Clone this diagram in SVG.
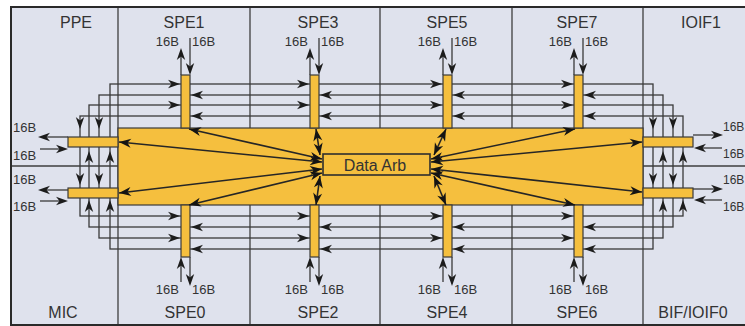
<svg xmlns="http://www.w3.org/2000/svg" xmlns:xlink="http://www.w3.org/1999/xlink" width="745" height="326" viewBox="0 0 745 326">
  <style>
    .bg{fill:#dfe2ed}
    .div{stroke:#3e3e3e;stroke-width:1.3;fill:none}
    .frame{stroke:#2a2a2a;stroke-width:2;fill:none}
    .ring{stroke:#3a3a3a;stroke-width:1.3;fill:none}
    .yel{fill:#f5bf3e;stroke:#3a3a3a;stroke-width:1.2}
    .fan{stroke:#262626;stroke-width:1.6;fill:none;marker-start:url(#fm);marker-end:url(#fm)}
    .stub{stroke:#3a3a3a;stroke-width:1.3;fill:none}
    .ah{fill:#1c1c1c}
    text{font-family:"Liberation Sans",Arial,sans-serif;fill:#333}
    .t{font-size:16px;text-anchor:middle}
    .s{font-size:13px}
    .r{font-size:12px}
    .e{text-anchor:end}
  </style>
  <defs>
    <path id="ah" class="ah" d="M0,0 L-12,-4.2 L-8.5,0 L-12,4.2 Z"/>
    <marker id="fm" markerUnits="userSpaceOnUse" viewBox="-13 -5 13 10" refX="0" refY="0" markerWidth="13" markerHeight="10" orient="auto-start-reverse">
      <path d="M0,0 L-12,-4.5 L-8.5,0 L-12,4.5 Z" fill="#141414"/>
    </marker>
  </defs>

  <rect x="0" y="0" width="745" height="326" fill="#ffffff"/>
  <rect class="bg" x="11" y="7" width="740" height="318"/>
  <g id="dividers">
    <line class="div" x1="118" y1="7" x2="118" y2="325"/>
    <line class="div" x1="250" y1="7" x2="250" y2="325"/>
    <line class="div" x1="380" y1="7" x2="380" y2="325"/>
    <line class="div" x1="512" y1="7" x2="512" y2="325"/>
    <line class="div" x1="643" y1="7" x2="643" y2="325"/>
    <line class="div" x1="11" y1="166" x2="118" y2="166"/>
    <line class="div" x1="643" y1="166" x2="745" y2="166"/>
  </g>
  <rect class="frame" x="11" y="7" width="745" height="318"/>

  <g id="eib">
    <rect class="yel" x="118" y="128" width="525" height="77"/>
  </g>

  <g id="connectors">
    <rect class="ring" x="110" y="84" width="543" height="165"/>
    <rect class="ring" x="99" y="95" width="564" height="143"/>
    <rect class="ring" x="89" y="105" width="584" height="122"/>
    <rect class="ring" x="80" y="116" width="603" height="100"/>
  </g>

  <g id="PPE">
    <text class="t" x="76" y="28">PPE</text>
    <rect class="yel" x="68" y="137" width="50" height="10"/>
    <line class="stub" x1="68" y1="137" x2="42" y2="137"/><use href="#ah" transform="translate(38,137) rotate(180)"/>
    <line class="stub" x1="40" y1="149" x2="64" y2="149"/><use href="#ah" transform="translate(68,149)"/>
    <text class="s" x="13" y="132">16B</text>
    <text class="s" x="13" y="160">16B</text>
  </g>
  <g id="MIC">
    <text class="t" x="63" y="318">MIC</text>
    <rect class="yel" x="68" y="188" width="50" height="10"/>
    <line class="stub" x1="68" y1="190" x2="42" y2="190"/><use href="#ah" transform="translate(38,190) rotate(180)"/>
    <line class="stub" x1="40" y1="201" x2="64" y2="201"/><use href="#ah" transform="translate(68,201)"/>
    <text class="s" x="13" y="184">16B</text>
    <text class="s" x="13" y="211">16B</text>
  </g>
  <g id="IOIF1">
    <text class="t" x="701" y="28">IOIF1</text>
    <rect class="yel" x="643" y="137" width="50" height="10"/>
    <line class="stub" x1="693" y1="135" x2="719" y2="135"/><use href="#ah" transform="translate(723,135)"/>
    <line class="stub" x1="722" y1="148" x2="698" y2="148"/><use href="#ah" transform="translate(694,148) rotate(180)"/>
    <text class="r" x="723" y="131">16B</text>
    <text class="r" x="723" y="158">16B</text>
  </g>
  <g id="BIF_IOIF0">
    <text class="t" x="693" y="318">BIF/IOIF0</text>
    <rect class="yel" x="643" y="188" width="50" height="10"/>
    <line class="stub" x1="693" y1="189" x2="719" y2="189"/><use href="#ah" transform="translate(723,189)"/>
    <line class="stub" x1="722" y1="200" x2="698" y2="200"/><use href="#ah" transform="translate(694,200) rotate(180)"/>
    <text class="r" x="723" y="184">16B</text>
    <text class="r" x="723" y="211">16B</text>
  </g>

  <g id="side-arrows">
    <use href="#ah" transform="translate(80,129) rotate(90)"/>
    <use href="#ah" transform="translate(99,129) rotate(90)"/>
    <use href="#ah" transform="translate(89,151) rotate(-90)"/>
    <use href="#ah" transform="translate(110,151) rotate(-90)"/>
    <use href="#ah" transform="translate(80,185) rotate(90)"/>
    <use href="#ah" transform="translate(99,185) rotate(90)"/>
    <use href="#ah" transform="translate(89,200) rotate(-90)"/>
    <use href="#ah" transform="translate(110,200) rotate(-90)"/>
    <use href="#ah" transform="translate(653,129) rotate(90)"/>
    <use href="#ah" transform="translate(673,129) rotate(90)"/>
    <use href="#ah" transform="translate(663,151) rotate(-90)"/>
    <use href="#ah" transform="translate(683,151) rotate(-90)"/>
    <use href="#ah" transform="translate(653,185) rotate(90)"/>
    <use href="#ah" transform="translate(673,185) rotate(90)"/>
    <use href="#ah" transform="translate(663,200) rotate(-90)"/>
    <use href="#ah" transform="translate(683,200) rotate(-90)"/>
  </g>

  <g id="SPE1">
    <text class="t" x="184" y="28">SPE1</text>
    <rect class="yel" x="181" y="75" width="9" height="53"/>
    <line class="stub" x1="181" y1="75" x2="181" y2="52"/><use href="#ah" transform="translate(181,48) rotate(-90)"/>
    <line class="stub" x1="190" y1="38" x2="190" y2="71"/><use href="#ah" transform="translate(190,75) rotate(90)"/>
    <text class="s e" x="179" y="46">16B</text><text class="s" x="192" y="46">16B</text>
    <use href="#ah" transform="translate(180,84)"/><use href="#ah" transform="translate(180,105)"/>
    <use href="#ah" transform="translate(191,95) rotate(180)"/><use href="#ah" transform="translate(191,116) rotate(180)"/>
  </g>
  <g id="SPE3">
    <text class="t" x="318" y="28">SPE3</text>
    <rect class="yel" x="310" y="75" width="9" height="53"/>
    <line class="stub" x1="310" y1="75" x2="310" y2="52"/><use href="#ah" transform="translate(310,48) rotate(-90)"/>
    <line class="stub" x1="319" y1="38" x2="319" y2="71"/><use href="#ah" transform="translate(319,75) rotate(90)"/>
    <text class="s e" x="308" y="46">16B</text><text class="s" x="321" y="46">16B</text>
    <use href="#ah" transform="translate(309,84)"/><use href="#ah" transform="translate(309,105)"/>
    <use href="#ah" transform="translate(320,95) rotate(180)"/><use href="#ah" transform="translate(320,116) rotate(180)"/>
  </g>
  <g id="SPE5">
    <text class="t" x="447" y="28">SPE5</text>
    <rect class="yel" x="443" y="75" width="9" height="53"/>
    <line class="stub" x1="443" y1="75" x2="443" y2="52"/><use href="#ah" transform="translate(443,48) rotate(-90)"/>
    <line class="stub" x1="452" y1="38" x2="452" y2="71"/><use href="#ah" transform="translate(452,75) rotate(90)"/>
    <text class="s e" x="441" y="46">16B</text><text class="s" x="454" y="46">16B</text>
    <use href="#ah" transform="translate(442,84)"/><use href="#ah" transform="translate(442,105)"/>
    <use href="#ah" transform="translate(453,95) rotate(180)"/><use href="#ah" transform="translate(453,116) rotate(180)"/>
  </g>
  <g id="SPE7">
    <text class="t" x="577" y="28">SPE7</text>
    <rect class="yel" x="574" y="75" width="9" height="53"/>
    <line class="stub" x1="574" y1="75" x2="574" y2="52"/><use href="#ah" transform="translate(574,48) rotate(-90)"/>
    <line class="stub" x1="583" y1="38" x2="583" y2="71"/><use href="#ah" transform="translate(583,75) rotate(90)"/>
    <text class="s e" x="572" y="46">16B</text><text class="s" x="585" y="46">16B</text>
    <use href="#ah" transform="translate(573,84)"/><use href="#ah" transform="translate(573,105)"/>
    <use href="#ah" transform="translate(584,95) rotate(180)"/><use href="#ah" transform="translate(584,116) rotate(180)"/>
  </g>

  <g id="SPE0">
    <text class="t" x="185" y="318">SPE0</text>
    <rect class="yel" x="181" y="205" width="9" height="52"/>
    <line class="stub" x1="181" y1="282" x2="181" y2="261"/><use href="#ah" transform="translate(181,257) rotate(-90)"/>
    <line class="stub" x1="190" y1="257" x2="190" y2="282"/><use href="#ah" transform="translate(190,286) rotate(90)"/>
    <text class="s e" x="179" y="294">16B</text><text class="s" x="192" y="294">16B</text>
    <use href="#ah" transform="translate(180,216)"/><use href="#ah" transform="translate(180,238)"/>
    <use href="#ah" transform="translate(191,227) rotate(180)"/><use href="#ah" transform="translate(191,249) rotate(180)"/>
  </g>
  <g id="SPE2">
    <text class="t" x="318" y="318">SPE2</text>
    <rect class="yel" x="310" y="205" width="9" height="52"/>
    <line class="stub" x1="310" y1="282" x2="310" y2="261"/><use href="#ah" transform="translate(310,257) rotate(-90)"/>
    <line class="stub" x1="319" y1="257" x2="319" y2="282"/><use href="#ah" transform="translate(319,286) rotate(90)"/>
    <text class="s e" x="308" y="294">16B</text><text class="s" x="321" y="294">16B</text>
    <use href="#ah" transform="translate(309,216)"/><use href="#ah" transform="translate(309,238)"/>
    <use href="#ah" transform="translate(320,227) rotate(180)"/><use href="#ah" transform="translate(320,249) rotate(180)"/>
  </g>
  <g id="SPE4">
    <text class="t" x="447" y="318">SPE4</text>
    <rect class="yel" x="443" y="205" width="9" height="52"/>
    <line class="stub" x1="443" y1="282" x2="443" y2="261"/><use href="#ah" transform="translate(443,257) rotate(-90)"/>
    <line class="stub" x1="452" y1="257" x2="452" y2="282"/><use href="#ah" transform="translate(452,286) rotate(90)"/>
    <text class="s e" x="441" y="294">16B</text><text class="s" x="454" y="294">16B</text>
    <use href="#ah" transform="translate(442,216)"/><use href="#ah" transform="translate(442,238)"/>
    <use href="#ah" transform="translate(453,227) rotate(180)"/><use href="#ah" transform="translate(453,249) rotate(180)"/>
  </g>
  <g id="SPE6">
    <text class="t" x="577" y="318">SPE6</text>
    <rect class="yel" x="574" y="205" width="9" height="52"/>
    <line class="stub" x1="574" y1="282" x2="574" y2="261"/><use href="#ah" transform="translate(574,257) rotate(-90)"/>
    <line class="stub" x1="583" y1="257" x2="583" y2="282"/><use href="#ah" transform="translate(583,286) rotate(90)"/>
    <text class="s e" x="572" y="294">16B</text><text class="s" x="585" y="294">16B</text>
    <use href="#ah" transform="translate(573,216)"/><use href="#ah" transform="translate(573,238)"/>
    <use href="#ah" transform="translate(584,227) rotate(180)"/><use href="#ah" transform="translate(584,249) rotate(180)"/>
  </g>

  <g id="arb-connectors">
    <line class="fan" x1="189" y1="129" x2="322" y2="159"/>
    <line class="fan" x1="119" y1="142" x2="322" y2="162"/>
    <line class="fan" x1="119" y1="193" x2="322" y2="169"/>
    <line class="fan" x1="189" y1="205" x2="322" y2="173"/>
    <line class="fan" x1="316" y1="129" x2="320" y2="155"/>
    <line class="fan" x1="316" y1="205" x2="320" y2="176"/>
    <line class="fan" x1="575" y1="129" x2="431" y2="159"/>
    <line class="fan" x1="642" y1="142" x2="431" y2="162"/>
    <line class="fan" x1="642" y1="192" x2="431" y2="169"/>
    <line class="fan" x1="575" y1="205" x2="431" y2="173"/>
    <line class="fan" x1="446" y1="129" x2="434" y2="155"/>
    <line class="fan" x1="446" y1="205" x2="434" y2="176"/>
  </g>

  <g id="DataArb">
    <rect x="323" y="154" width="107" height="21" fill="#f5bf3e" stroke="#2e2e2e" stroke-width="1.6"/>
    <text x="375" y="171" font-size="16" text-anchor="middle">Data Arb</text>
  </g>
</svg>
